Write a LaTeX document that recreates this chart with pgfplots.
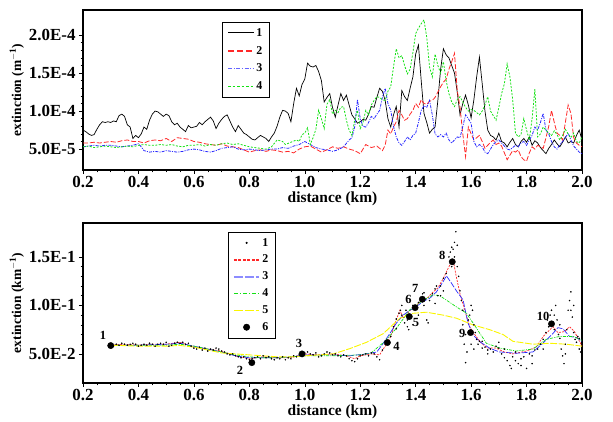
\documentclass[border=0pt]{standalone}
\usepackage{pgfplots}
\pgfplotsset{compat=1.18}
\usepackage{fontspec}
\setmainfont{Liberation Serif}
\newfontfamily\labfont{Poppins}
\definecolor{cred}{RGB}{255,40,40}
\definecolor{cblue}{RGB}{40,40,255}
\definecolor{cgreen}{RGB}{20,225,20}
\definecolor{cyel}{RGB}{250,245,0}
\definecolor{lblue}{RGB}{140,140,255}
\pgfplotsset{legend image code/.code={\draw[#1] (0cm,0cm) -- (0.9cm,0cm);}}
\pgfplotsset{
  common/.style={
    scale only axis, width=499bp, height=160bp,
    xmin=0.2, xmax=2.0,
    xtick={0.2,0.4,0.6,0.8,1.0,1.2,1.4,1.6,1.8,2.0},
    xticklabels={0.2,0.4,0.6,0.8,1.0,1.2,1.4,1.6,1.8,2.0},
    minor x tick num=3,
    minor y tick num=4,
    tick align=outside, tick pos=left,
    major tick length=4bp, minor tick length=2.5bp,
    axis line style={line width=1.6pt},
    every tick/.style={black, line width=0.5pt},
    ticklabel style={font=\fontsize{17}{19}\selectfont\bfseries},
    xticklabel style={yshift=1bp},
    xlabel={distance (km)},
    xlabel style={font=\fontsize{15.5}{17}\selectfont\bfseries, yshift=3bp},
    ylabel style={font=\fontsize{13.5}{15}\selectfont\bfseries, yshift=-2bp},
    legend cell align=left,
    legend style={draw=black, line width=0.5pt, font=\fontsize{12}{14}\selectfont\bfseries, anchor=north west, inner xsep=5bp, inner ysep=4bp},
  }
}
\begin{document}
\begin{tikzpicture}
\useasboundingbox (0,0) rectangle (613bp,422bp);
% ---------------- a) ----------------
\begin{axis}[common, at={(83bp,252bp)}, anchor=south west,
  ymin=2.25, ymax=23.3,
  ytick={5,10,15,20}, yticklabels={5.0E-5,1.0E-4,1.5E-4,2.0E-4},
  ylabel={extinction (m$^{\mathbf{-1}}$)},
  legend style={at={(0.279,0.925)}, row sep=4.5bp},
  clip=true]
\addplot[black, line width=0.7pt, forget plot] coordinates {
(0.20,7.5)(0.21,7.3)(0.22,7.0)(0.23,6.8)(0.24,6.9)(0.25,7.6)(0.26,8.2)(0.27,8.6)(0.28,8.5)(0.29,8.6)
(0.30,8.5)(0.31,8.7)(0.32,8.6)(0.33,9.4)(0.34,9.6)(0.35,9.3)(0.36,8.2)(0.37,7.9)(0.38,6.4)(0.39,6.8)
(0.40,6.5)(0.41,7.0)(0.42,7.9)(0.43,7.6)(0.44,8.8)(0.45,9.6)(0.46,10.0)(0.47,9.9)(0.48,9.6)(0.49,9.3)
(0.50,9.6)(0.51,9.4)(0.52,8.6)(0.53,8.2)(0.54,8.4)(0.55,7.9)(0.56,7.6)(0.57,7.3)(0.58,8.1)(0.59,7.8)
(0.60,7.9)(0.61,8.0)(0.62,8.5)(0.63,8.2)(0.64,8.6)(0.65,8.9)(0.66,9.2)(0.67,8.7)(0.68,7.7)(0.69,8.4)
(0.70,8.9)(0.71,9.3)(0.72,9.5)(0.73,8.7)(0.74,7.9)(0.75,7.3)(0.76,8.1)(0.77,7.6)(0.78,7.1)(0.79,6.9)
(0.80,6.6)(0.81,6.3)(0.82,6.2)(0.83,6.5)(0.84,6.8)(0.85,6.6)(0.86,6.4)(0.87,6.0)(0.88,6.6)(0.89,7.1)
(0.90,8.0)(0.91,9.2)(0.92,10.1)(0.93,10.0)(0.94,9.7)(0.95,8.6)(0.96,11.0)(0.97,13.0)(0.98,12.0)(0.99,13.5)
(1.00,14.2)(1.01,16.3)(1.02,15.9)(1.03,15.8)(1.04,16.0)(1.05,15.2)(1.06,14.0)(1.07,11.2)(1.08,11.8)(1.09,12.3)
(1.10,10.5)(1.11,9.2)(1.12,10.8)(1.13,12.3)(1.14,11.4)(1.15,12.1)(1.16,10.8)(1.17,9.5)(1.18,9.0)(1.19,8.4)
(1.20,8.6)(1.21,8.9)(1.22,8.8)(1.23,9.6)(1.24,10.6)(1.25,10.5)(1.26,11.8)(1.27,13.0)(1.28,12.6)(1.29,11.4)
(1.30,9.0)(1.31,7.9)(1.32,9.5)(1.33,10.6)(1.34,7.9)(1.35,12.7)(1.36,11.9)(1.37,11.4)(1.38,13.0)(1.39,14.5)
(1.40,17.5)(1.41,18.7)(1.42,14.0)(1.43,9.7)(1.44,8.5)(1.45,7.1)(1.46,7.6)(1.47,7.9)(1.48,11.4)(1.49,15.5)
(1.50,18.2)(1.51,17.4)(1.52,17.0)(1.53,16.0)(1.54,15.0)(1.55,12.5)(1.56,9.5)(1.57,11.0)(1.58,12.1)(1.59,10.8)
(1.60,9.1)(1.61,11.5)(1.62,14.5)(1.63,17.1)(1.64,13.6)(1.65,10.0)(1.66,7.5)(1.67,6.8)(1.68,6.6)(1.69,6.2)
(1.70,7.1)(1.71,6.0)(1.72,5.8)(1.73,5.3)(1.74,5.9)(1.75,6.4)(1.76,5.6)(1.77,5.3)(1.78,6.0)(1.79,6.4)
(1.80,5.9)(1.81,6.6)(1.82,5.5)(1.83,6.1)(1.84,5.8)(1.85,5.2)(1.86,4.8)(1.87,4.4)(1.88,5.1)(1.89,5.6)
(1.90,6.2)(1.91,5.7)(1.92,5.3)(1.93,5.9)(1.94,6.6)(1.95,5.8)(1.96,6.0)(1.97,5.8)(1.98,6.8)(1.99,7.5)(2.00,6.2)
};
\addlegendimage{draw=black, line width=1.0pt}
\addlegendentry{1}
\addplot[cred, line width=0.8pt, dash pattern=on 5pt off 2pt, forget plot] coordinates {
(0.20,5.8)(0.22,5.8)(0.24,5.9)(0.26,5.8)(0.28,5.9)(0.30,6.0)(0.32,5.9)(0.34,6.1)(0.36,6.2)(0.38,6.0)
(0.40,6.0)(0.42,5.8)(0.44,6.1)(0.46,6.2)(0.48,6.1)(0.50,6.4)(0.52,6.0)(0.54,6.5)(0.56,6.4)(0.58,6.3)
(0.60,6.0)(0.62,5.9)(0.64,5.7)(0.66,5.6)(0.68,5.5)(0.70,5.7)(0.72,5.4)(0.74,5.3)(0.76,5.2)(0.78,4.9)
(0.80,4.6)(0.82,4.8)(0.84,4.9)(0.86,4.7)(0.88,4.9)(0.90,4.8)(0.92,4.6)(0.94,4.7)(0.96,4.5)(0.98,5.0)
(1.00,5.3)(1.02,5.4)(1.04,5.0)(1.06,4.6)(1.08,4.9)(1.10,5.3)(1.12,5.1)(1.14,5.3)(1.16,5.0)(1.18,4.8)
(1.20,4.4)(1.22,5.6)(1.24,5.2)(1.26,5.4)(1.28,4.8)(1.29,5.5)(1.30,7.5)(1.31,7.0)(1.32,7.9)(1.33,8.6)
(1.34,10.1)(1.35,9.5)(1.36,8.8)(1.37,9.0)(1.38,9.6)(1.39,10.1)(1.40,11.0)(1.41,10.5)(1.42,11.5)(1.43,11.0)
(1.44,10.9)(1.45,11.3)(1.46,11.4)(1.47,11.8)(1.48,12.5)(1.49,13.2)(1.50,13.8)(1.51,14.2)(1.52,15.5)(1.53,16.5)
(1.54,17.6)(1.55,12.7)(1.56,10.5)(1.57,7.0)(1.58,4.0)(1.59,7.9)(1.60,7.0)(1.61,6.2)(1.62,6.5)(1.63,6.8)
(1.64,6.0)(1.65,5.1)(1.66,5.5)(1.67,5.9)(1.68,6.2)(1.69,5.6)(1.70,5.8)(1.71,5.4)(1.72,4.5)(1.73,3.6)
(1.74,4.2)(1.75,4.8)(1.76,4.6)(1.77,4.9)(1.78,4.0)(1.79,3.6)(1.80,3.4)(1.81,4.5)(1.82,5.3)(1.83,5.0)
(1.84,5.5)(1.85,5.3)(1.86,5.1)(1.87,6.5)(1.88,8.0)(1.89,10.1)(1.90,8.5)(1.91,7.1)(1.92,6.8)(1.93,6.2)
(1.94,8.5)(1.95,10.8)(1.96,9.7)(1.97,6.5)(1.98,5.8)(1.99,5.5)(2.00,5.3)
};
\addlegendimage{draw=cred, line width=1.5pt, dash pattern=on 6pt off 3pt}
\addlegendentry{2}
\addplot[cblue, line width=0.8pt, dash pattern=on 3pt off 1.2pt on 1pt off 1.2pt, forget plot] coordinates {
(0.20,5.3)(0.22,5.4)(0.24,5.5)(0.26,5.4)(0.28,5.5)(0.30,5.5)(0.32,5.4)(0.34,5.3)(0.36,5.4)(0.38,5.5)
(0.40,5.7)(0.41,5.3)(0.42,4.8)(0.44,4.6)(0.46,4.7)(0.48,4.6)(0.50,4.8)(0.52,4.7)(0.54,4.6)(0.56,4.7)
(0.58,4.9)(0.60,5.0)(0.62,4.9)(0.64,4.7)(0.66,4.6)(0.68,4.8)(0.70,5.1)(0.72,5.2)(0.74,5.3)(0.76,5.0)
(0.78,4.9)(0.80,5.0)(0.82,4.9)(0.84,4.8)(0.86,4.9)(0.88,5.0)(0.90,5.0)(0.92,5.2)(0.94,5.1)(0.96,5.4)
(0.98,5.6)(1.00,6.0)(1.02,5.6)(1.04,5.2)(1.06,5.0)(1.08,4.9)(1.10,4.7)(1.12,4.9)(1.14,5.3)(1.16,6.2)
(1.17,6.5)(1.18,7.9)(1.19,11.5)(1.20,9.0)(1.21,8.0)(1.22,7.9)(1.23,8.5)(1.24,9.3)(1.25,9.0)(1.26,9.6)
(1.27,10.1)(1.28,11.8)(1.29,13.0)(1.30,11.0)(1.31,10.1)(1.32,8.0)(1.33,6.6)(1.34,5.8)(1.35,5.5)(1.36,6.0)
(1.37,6.6)(1.38,6.2)(1.39,6.8)(1.40,7.1)(1.41,8.5)(1.42,10.1)(1.43,10.7)(1.44,10.5)(1.45,11.4)(1.46,9.5)
(1.47,7.0)(1.48,6.6)(1.49,6.9)(1.50,6.6)(1.51,7.1)(1.52,6.2)(1.53,5.8)(1.54,6.2)(1.55,6.6)(1.56,6.5)
(1.57,8.0)(1.58,9.5)(1.59,9.0)(1.60,8.4)(1.61,6.0)(1.62,5.3)(1.63,5.6)(1.64,5.3)(1.65,4.6)(1.66,4.4)
(1.67,5.0)(1.68,5.6)(1.69,6.0)(1.70,6.2)(1.71,5.8)(1.72,5.4)(1.73,5.0)(1.74,4.9)(1.75,5.2)(1.76,5.5)
(1.77,5.3)(1.78,5.8)(1.79,6.0)(1.80,5.5)(1.81,6.2)(1.82,6.8)(1.83,7.9)(1.84,7.5)(1.85,8.5)(1.86,9.7)
(1.87,7.5)(1.88,7.0)(1.89,6.0)(1.90,5.3)(1.91,5.0)(1.92,5.6)(1.93,6.0)(1.94,6.5)(1.95,7.1)(1.96,6.2)
(1.97,5.4)(1.98,5.0)(1.99,4.6)(2.00,4.4)
};
\addlegendimage{draw=lblue!60!cblue, line width=1.5pt, dash pattern=on 4pt off 1.5pt on 1.2pt off 1.5pt}
\addlegendentry{3}
\addplot[cgreen, line width=0.8pt, dash pattern=on 2pt off 1.5pt, forget plot] coordinates {
(0.20,5.3)(0.22,5.4)(0.24,5.2)(0.26,5.3)(0.28,5.4)(0.30,5.3)(0.32,5.2)(0.34,5.3)(0.36,5.4)(0.38,5.3)
(0.40,5.5)(0.42,5.6)(0.44,5.5)(0.46,5.5)(0.48,5.6)(0.50,5.5)(0.52,5.6)(0.54,5.4)(0.56,5.3)(0.58,5.5)
(0.60,5.5)(0.62,5.6)(0.64,5.4)(0.66,5.6)(0.68,5.5)(0.70,5.7)(0.72,5.8)(0.74,5.6)(0.76,5.7)(0.78,5.5)
(0.80,5.3)(0.82,5.2)(0.84,5.1)(0.86,5.0)(0.88,5.3)(0.90,6.2)(0.92,6.0)(0.93,5.6)(0.95,5.9)(0.97,6.2)
(0.98,6.0)(0.99,6.9)(1.00,7.1)(1.01,7.8)(1.02,5.6)(1.03,6.5)(1.04,7.6)(1.05,10.1)(1.06,9.0)(1.07,7.7)
(1.08,10.9)(1.09,11.5)(1.10,9.6)(1.11,10.1)(1.12,9.8)(1.13,10.5)(1.14,10.6)(1.15,8.8)(1.16,7.5)(1.17,6.8)
(1.18,8.8)(1.19,10.1)(1.20,7.7)(1.21,8.5)(1.22,10.1)(1.23,9.5)(1.24,10.8)(1.25,11.4)(1.26,11.9)(1.27,11.8)
(1.28,11.5)(1.29,11.4)(1.30,12.6)(1.31,13.2)(1.32,15.8)(1.33,18.2)(1.34,17.0)(1.35,17.3)(1.36,16.0)(1.37,14.9)
(1.38,15.5)(1.39,17.7)(1.40,20.2)(1.41,20.9)(1.42,21.5)(1.43,22.0)(1.44,19.7)(1.45,15.8)(1.46,14.5)(1.47,17.5)
(1.48,16.0)(1.49,15.0)(1.50,16.5)(1.51,14.0)(1.52,12.3)(1.53,11.2)(1.54,10.6)(1.55,11.5)(1.56,11.9)(1.57,11.2)
(1.58,10.5)(1.59,10.0)(1.60,10.2)(1.61,10.1)(1.62,9.8)(1.63,9.5)(1.64,10.0)(1.65,10.8)(1.66,11.9)(1.67,10.0)
(1.68,9.4)(1.69,8.8)(1.70,10.5)(1.71,12.3)(1.72,13.6)(1.73,16.2)(1.74,14.5)(1.75,11.5)(1.76,7.1)(1.77,6.6)
(1.78,6.9)(1.79,9.0)(1.80,7.5)(1.81,6.2)(1.82,9.0)(1.83,12.9)(1.84,6.6)(1.85,7.0)(1.86,7.9)(1.87,7.5)
(1.88,7.1)(1.89,6.8)(1.90,7.4)(1.91,6.9)(1.92,6.2)(1.93,6.8)(1.94,7.6)(1.95,7.0)(1.96,6.5)(1.97,7.1)
(1.98,6.0)(1.99,5.8)(2.00,6.6)
};
\addlegendimage{draw=cgreen, line width=1.5pt, dash pattern=on 2.5pt off 2pt}
\addlegendentry{4}
\node[anchor=west, font=\labfont\fontsize{17}{19}\selectfont] at (rel axis cs:1.015,0.5) {a)};
\end{axis}
% ---------------- b) ----------------
\begin{axis}[common, at={(83bp,39bp)}, anchor=south west,
  ymin=0.02, ymax=0.185,
  ytick={0.05,0.10,0.15}, yticklabels={5.0E-2,1.0E-1,1.5E-1},
  ylabel={extinction (km$^{\mathbf{-1}}$)},
  legend style={at={(0.29,0.944)}, row sep=3.5bp},
  clip=true]
\addplot[only marks, mark=*, mark size=0.55pt, black, legend image code/.code={\fill[black] (0.45cm,0cm) circle (0.8pt);}] coordinates {
(0.30,0.059)(0.31,0.058)(0.32,0.060)(0.33,0.059)(0.34,0.061)(0.35,0.060)(0.36,0.059)(0.37,0.060)(0.38,0.061)(0.39,0.060)
(0.40,0.058)(0.41,0.059)(0.42,0.060)(0.43,0.059)(0.44,0.061)(0.45,0.060)(0.46,0.058)(0.47,0.060)(0.48,0.061)(0.49,0.060)
(0.50,0.062)(0.51,0.058)(0.52,0.059)(0.53,0.061)(0.54,0.062)(0.55,0.061)(0.56,0.062)(0.57,0.060)(0.58,0.061)(0.59,0.058)
(0.60,0.056)(0.61,0.055)(0.62,0.057)(0.63,0.054)(0.64,0.056)(0.65,0.053)(0.66,0.055)(0.67,0.054)(0.68,0.056)(0.69,0.055)
(0.70,0.053)(0.71,0.052)(0.72,0.050)(0.73,0.049)(0.74,0.050)(0.75,0.048)(0.76,0.047)(0.77,0.046)(0.78,0.047)(0.79,0.045)
(0.80,0.044)(0.81,0.045)(0.82,0.046)(0.83,0.047)(0.84,0.045)(0.85,0.048)(0.86,0.046)(0.87,0.047)(0.88,0.045)(0.89,0.044)
(0.90,0.046)(0.91,0.045)(0.92,0.047)(0.93,0.044)(0.94,0.046)(0.95,0.045)(0.96,0.048)(0.97,0.047)(0.98,0.049)(0.99,0.050)
(1.00,0.051)(1.01,0.052)(1.02,0.050)(1.03,0.049)(1.04,0.051)(1.05,0.047)(1.06,0.048)(1.07,0.050)(1.08,0.052)(1.09,0.051)
(1.10,0.049)(1.11,0.050)(1.12,0.048)(1.13,0.047)(1.14,0.049)(1.15,0.048)(1.16,0.045)(1.17,0.043)(1.18,0.042)(1.19,0.045)
(1.20,0.048)(1.21,0.049)(1.22,0.050)(1.23,0.048)(1.24,0.051)(1.25,0.050)(1.26,0.047)(1.27,0.044)(1.28,0.054)(1.29,0.060)
(1.30,0.063)(1.31,0.068)(1.32,0.078)(1.33,0.086)(1.34,0.092)(1.345,0.095)(1.35,0.090)(1.36,0.082)(1.365,0.095)(1.37,0.078)
(1.375,0.075)(1.38,0.088)(1.39,0.100)(1.40,0.097)(1.41,0.103)(1.42,0.108)(1.425,0.112)(1.43,0.100)(1.44,0.085)(1.445,0.082)
(1.45,0.105)(1.46,0.112)(1.47,0.117)(1.475,0.120)(1.48,0.110)(1.49,0.120)(1.50,0.128)(1.51,0.133)(1.52,0.150)(1.525,0.155)
(1.53,0.160)(1.535,0.158)(1.54,0.165)(1.545,0.176)(1.55,0.140)(1.555,0.130)(1.56,0.115)(1.565,0.105)(1.57,0.095)(1.575,0.060)
(1.58,0.041)(1.585,0.052)(1.59,0.085)(1.595,0.090)(1.60,0.100)(1.605,0.095)(1.61,0.080)(1.615,0.072)(1.62,0.065)(1.625,0.060)
(1.63,0.063)(1.64,0.056)(1.65,0.057)(1.66,0.054)(1.67,0.055)(1.68,0.052)(1.69,0.058)(1.70,0.056)(1.71,0.050)(1.72,0.046)
(1.73,0.043)(1.74,0.038)(1.745,0.035)(1.75,0.047)(1.76,0.043)(1.77,0.040)(1.78,0.045)(1.79,0.047)(1.80,0.035)(1.81,0.050)
(1.82,0.048)(1.83,0.054)(1.84,0.055)(1.85,0.060)(1.86,0.065)(1.87,0.072)(1.875,0.085)(1.88,0.078)(1.885,0.090)(1.89,0.095)
(1.895,0.083)(1.90,0.075)(1.905,0.100)(1.91,0.085)(1.915,0.070)(1.92,0.066)(1.925,0.055)(1.93,0.048)(1.935,0.040)(1.94,0.060)
(1.945,0.075)(1.95,0.095)(1.955,0.105)(1.96,0.114)(1.965,0.088)(1.97,0.072)(1.975,0.065)(1.98,0.062)(1.985,0.068)(1.99,0.055)
(1.995,0.052)(2.00,0.050)
(1.33,0.076)(1.35,0.100)(1.37,0.085)(1.39,0.080)(1.41,0.090)(1.43,0.113)(1.47,0.102)(1.49,0.110)(1.50,0.115)(1.53,0.140)
(1.54,0.150)(1.55,0.162)(1.57,0.080)(1.58,0.070)(1.60,0.060)(1.61,0.055)(1.64,0.063)(1.66,0.050)(1.70,0.062)(1.72,0.055)
(1.76,0.052)(1.78,0.038)(1.82,0.040)(1.86,0.055)(1.90,0.090)(1.92,0.080)(1.94,0.050)(1.96,0.095)(1.97,0.100)(1.99,0.066)
};
\addlegendentry{1}
\addplot[cred, line width=0.7pt, dash pattern=on 2pt off 1.2pt, forget plot] coordinates {
(0.30,0.059)(0.35,0.060)(0.40,0.059)(0.45,0.060)(0.50,0.060)(0.55,0.062)(0.60,0.057)(0.65,0.055)(0.70,0.053)(0.75,0.048)
(0.80,0.045)(0.85,0.047)(0.90,0.046)(0.95,0.046)(1.00,0.050)(1.05,0.049)(1.10,0.050)(1.15,0.048)(1.18,0.045)(1.20,0.048)
(1.24,0.050)(1.27,0.049)(1.29,0.058)(1.31,0.068)(1.33,0.085)(1.343,0.095)(1.355,0.087)(1.38,0.095)(1.40,0.099)(1.42,0.105)
(1.44,0.107)(1.46,0.113)(1.48,0.118)(1.50,0.128)(1.52,0.140)(1.535,0.147)(1.547,0.129)(1.56,0.112)(1.577,0.095)(1.595,0.078)
(1.613,0.070)(1.637,0.061)(1.66,0.056)(1.69,0.056)(1.72,0.052)(1.75,0.050)(1.80,0.053)(1.835,0.057)(1.86,0.068)(1.877,0.073)
(1.895,0.078)(1.913,0.072)(1.937,0.073)(1.955,0.078)(1.973,0.073)(2.00,0.058)
};
\addlegendimage{draw=cred, line width=1.7pt, dash pattern=on 3pt off 1.5pt}
\addlegendentry{2}
\addplot[cblue, line width=0.7pt, dash pattern=on 6pt off 1.5pt, forget plot] coordinates {
(0.30,0.059)(0.40,0.059)(0.50,0.060)(0.55,0.061)(0.60,0.058)(0.65,0.055)(0.70,0.052)(0.75,0.048)(0.80,0.046)(0.85,0.046)
(0.90,0.046)(0.95,0.047)(1.00,0.049)(1.05,0.049)(1.10,0.049)(1.16,0.048)(1.22,0.050)(1.26,0.052)(1.283,0.061)(1.307,0.071)
(1.331,0.082)(1.355,0.090)(1.379,0.095)(1.403,0.099)(1.427,0.104)(1.451,0.1075)(1.475,0.114)(1.499,0.1245)(1.511,0.1305)(1.529,0.123)
(1.547,0.115)(1.571,0.1057)(1.589,0.0816)(1.607,0.0696)(1.631,0.0627)(1.667,0.0558)(1.703,0.052)(1.763,0.0507)(1.823,0.052)(1.859,0.061)
(1.895,0.071)(1.913,0.077)(1.931,0.076)(1.955,0.068)(1.979,0.067)(2.00,0.063)
};
\addlegendimage{draw=lblue, line width=1.8pt, dash pattern=on 9pt off 2pt}
\addlegendentry{3}
\addplot[cgreen, line width=0.7pt, dash pattern=on 3pt off 1.2pt on 1pt off 1.2pt, forget plot] coordinates {
(0.30,0.059)(0.40,0.059)(0.50,0.059)(0.55,0.060)(0.60,0.058)(0.65,0.055)(0.70,0.052)(0.75,0.049)(0.80,0.047)(0.85,0.046)
(0.90,0.046)(0.95,0.047)(1.00,0.048)(1.10,0.048)(1.20,0.049)(1.24,0.051)(1.264,0.057)(1.289,0.063)(1.331,0.0767)(1.379,0.0955)
(1.427,0.1054)(1.463,0.111)(1.487,0.110)(1.511,0.1054)(1.547,0.0985)(1.583,0.092)(1.619,0.0767)(1.655,0.061)(1.703,0.056)(1.763,0.053)
(1.823,0.055)(1.871,0.065)(1.919,0.068)(1.968,0.068)(2.00,0.064)
};
\addlegendimage{draw=cgreen, line width=1.7pt, dash pattern=on 4.5pt off 1.5pt on 1.5pt off 1.5pt}
\addlegendentry{4}
\addplot[cyel, line width=0.9pt, dash pattern=on 7pt off 1.5pt, forget plot] coordinates {
(0.30,0.059)(0.40,0.058)(0.50,0.058)(0.55,0.0587)(0.60,0.057)(0.65,0.054)(0.70,0.051)(0.75,0.050)(0.80,0.049)(0.85,0.048)
(0.90,0.047)(0.95,0.047)(1.00,0.048)(1.05,0.049)(1.103,0.050)(1.163,0.0555)(1.223,0.062)(1.283,0.0709)(1.343,0.0868)(1.391,0.0919)
(1.439,0.093)(1.499,0.090)(1.547,0.0868)(1.607,0.0799)(1.667,0.075)(1.715,0.070)(1.751,0.063)(1.823,0.060)(1.883,0.061)(1.944,0.060)
(2.00,0.058)
};
\addlegendimage{draw=cyel, line width=1.6pt, dash pattern=on 9pt off 2pt}
\addlegendentry{5}
\addplot[only marks, mark=*, mark size=3.2pt, black, legend image code/.code={\fill[black] (0.45cm,0cm) circle (3.2pt);}] coordinates {
(0.30,0.0586)(0.809,0.041)(0.99,0.050)(1.298,0.0617)(1.377,0.0885)(1.398,0.0977)(1.424,0.1064)(1.532,0.145)(1.598,0.072)(1.890,0.081)
};
\addlegendentry{6}
\begin{scope}[every node/.style={font=\fontsize{12.5}{14}\selectfont\bfseries}]
\node at (axis cs:0.272,0.0696) {1};
\node at (axis cs:0.766,0.0335) {2};
\node at (axis cs:0.979,0.061) {3};
\node at (axis cs:1.331,0.0576) {4};
\node at (axis cs:1.401,0.082) {5};
\node at (axis cs:1.374,0.1057) {6};
\node at (axis cs:1.398,0.118) {7};
\node at (axis cs:1.496,0.152) {8};
\node at (axis cs:1.568,0.0706) {9};
\node at (axis cs:1.860,0.0885) {10};
\end{scope}
\node[anchor=west, font=\labfont\fontsize{17}{19}\selectfont] at (rel axis cs:1.015,0.54) {b)};
\end{axis}
\end{tikzpicture}
\end{document}
